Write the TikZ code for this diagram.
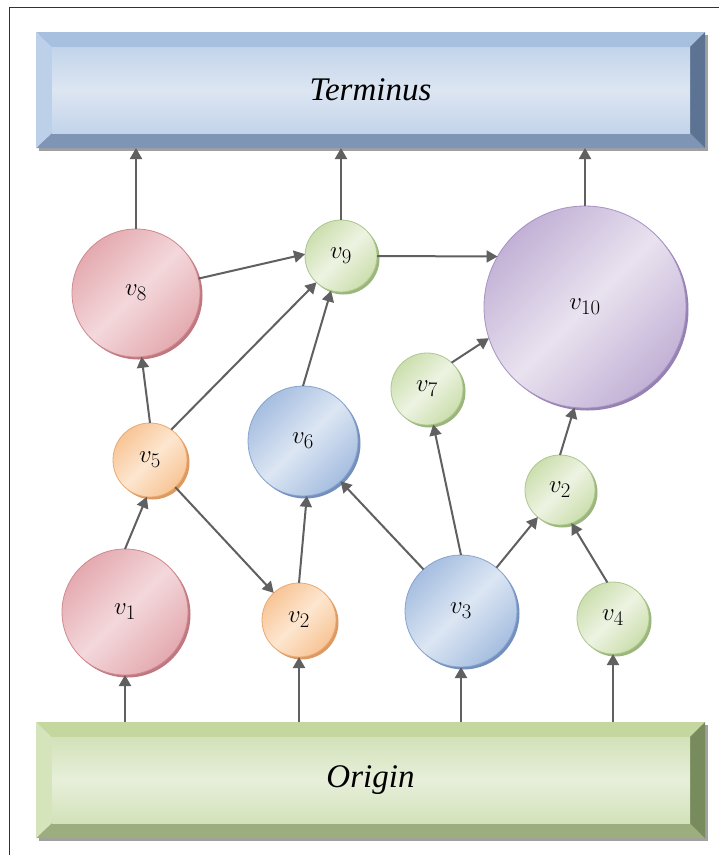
\documentclass[tikz,border=0pt]{standalone}
\usepackage{fontspec}
\setmainfont{Liberation Serif}[ItalicFont={Liberation Serif Italic}]
\usetikzlibrary{arrows.meta}
\definecolor{framec}{HTML}{333333}
\definecolor{arrc}{HTML}{606060}
% red
\definecolor{redL}{HTML}{F3D8DB}\definecolor{redM}{HTML}{E4AAB0}\definecolor{redB}{HTML}{D08890}\definecolor{redS}{HTML}{C07880}
% orange
\definecolor{orgL}{HTML}{FDE6CF}\definecolor{orgM}{HTML}{F8C597}\definecolor{orgB}{HTML}{EBAA72}\definecolor{orgS}{HTML}{DC9A62}
% blue
\definecolor{bluL}{HTML}{DCE6F3}\definecolor{bluM}{HTML}{A6BEE0}\definecolor{bluB}{HTML}{86A3CE}\definecolor{bluS}{HTML}{7390BC}
% green
\definecolor{grnL}{HTML}{EDF3E2}\definecolor{grnM}{HTML}{CCDFAE}\definecolor{grnB}{HTML}{ADC78E}\definecolor{grnS}{HTML}{9BB67C}
% purple
\definecolor{purL}{HTML}{E9E2EF}\definecolor{purM}{HTML}{C2B1D6}\definecolor{purB}{HTML}{A792C2}\definecolor{purS}{HTML}{9582B2}
% bevel blue
\definecolor{bbTop}{HTML}{A7C0E0}\definecolor{bbLeft}{HTML}{BDD0EA}\definecolor{bbBot}{HTML}{7F95B5}\definecolor{bbRight}{HTML}{5D7393}
\definecolor{bbFaceA}{HTML}{C3D4EA}\definecolor{bbFaceB}{HTML}{DCE6F2}
% bevel green
\definecolor{bgTop}{HTML}{C4D79F}\definecolor{bgLeft}{HTML}{D5E4BB}\definecolor{bgBot}{HTML}{9CAE7E}\definecolor{bgRight}{HTML}{788B5C}
\definecolor{bgFaceA}{HTML}{D3E2B9}\definecolor{bgFaceB}{HTML}{E7EFDA}
\definecolor{boxshadow}{HTML}{A0A0A0}

\newcommand{\vnode}[6]{%
  \fill[#5S] (#2+2.5,#3+2.5) circle[radius=#4];
  \node[vn, draw=#5B, top color=#5M, bottom color=#5M, middle color=#5L,
        shading angle=45, minimum size={#4*2pt}] (#1) at (#2,#3) {$v_{#6}$};
}

\begin{document}
\begin{tikzpicture}[x=1pt,y=-1pt,
  vn/.style={circle, inner sep=0pt, outer sep=0pt, line width=0.8pt,
             font=\fontsize{31}{35}\selectfont},
  arr/.style={draw=arrc, line width=2pt, -{Triangle[length=11pt,width=12pt]}},
  boxlbl/.style={rectangle, inner sep=0pt, outer sep=0pt,
                 minimum width=669pt, minimum height=116pt,
                 font=\fontsize{33}{38}\selectfont\itshape}
]
\useasboundingbox (0,0) rectangle (719,855);
\fill[white] (0,0) rectangle (719,855);
\draw[framec, line width=1pt] (9,855) -- (9,7) -- (719,7);

% ---- Terminus box ----
\fill[boxshadow] (39,35) rectangle (708,151);
\fill[bbTop] (36,32) -- (705,32) -- (690,47) -- (52,47) -- cycle;
\fill[bbBot] (36,148) -- (705,148) -- (690,133) -- (52,133) -- cycle;
\fill[bbLeft] (36,32) -- (52,47) -- (52,133) -- (36,148) -- cycle;
\fill[bbRight] (705,32) -- (690,47) -- (690,133) -- (705,148) -- cycle;
\shade[top color=bbFaceA, bottom color=bbFaceA, middle color=bbFaceB] (52,47) rectangle (690,133);
\node[boxlbl] (T) at (370.5,90) {Terminus};

% ---- Origin box ----
\fill[boxshadow] (39,725) rectangle (708,841);
\fill[bgTop] (36,722) -- (705,722) -- (690,737) -- (52,737) -- cycle;
\fill[bgBot] (36,838) -- (705,838) -- (690,823) -- (52,823) -- cycle;
\fill[bgLeft] (36,722) -- (52,737) -- (52,823) -- (36,838) -- cycle;
\fill[bgRight] (705,722) -- (690,737) -- (690,823) -- (705,838) -- cycle;
\shade[top color=bgFaceA, bottom color=bgFaceA, middle color=bgFaceB] (52,737) rectangle (690,823);
\node[boxlbl] (O) at (370.5,780) {Origin};

% ---- vertices ----
\vnode{v8}{136}{293}{64}{red}{8}
\vnode{v9}{341}{256}{36}{grn}{9}
\vnode{v10}{585}{307}{101}{pur}{10}
\vnode{v5}{150}{460}{37}{org}{5}
\vnode{v6}{303}{441}{55}{blu}{6}
\vnode{v7}{427}{389}{36}{grn}{7}
\vnode{v2g}{560}{490}{35}{grn}{2}
\vnode{v1}{125}{612}{63}{red}{1}
\vnode{v2o}{299}{620}{37}{org}{2}
\vnode{v3}{461}{611}{56}{blu}{3}
\vnode{v4}{613}{618}{36}{grn}{4}

% ---- connectors ----
\draw[arr] (v1 |- O.north) -- (v1);
\draw[arr] (v2o |- O.north) -- (v2o);
\draw[arr] (v3 |- O.north) -- (v3);
\draw[arr] (v4 |- O.north) -- (v4);

\draw[arr] (v8.north) -- (v8.north |- T.south);
\draw[arr] (v9.north) -- (v9.north |- T.south);
\draw[arr] (v10.north) -- (v10.north |- T.south);

\draw[arr] (v1.north) -- (v5.265);
\draw[arr] (v5.north) -- (v8.275);
\draw[arr] (v5.55) -- (v9.227);
\draw[arr] (v5) -- (v2o);
\draw[arr] (v8.13) -- (v9.177);
\draw[arr] (v6.north) -- (v9.254);
\draw[arr] (v2o.north) -- (v6.274);
\draw[arr] (v3.132) -- (v6.313);
\draw[arr] (v3.north) -- (v7.280);
\draw[arr] (v3) -- (v2g);
\draw[arr] (v4.99) -- (v2g.289);
\draw[arr] (v2g.north) -- (v10.264);
\draw[arr] (v7.47) -- (v10.198);
\draw[arr] (v9.east) -- (v10.150);
\end{tikzpicture}
\end{document}
